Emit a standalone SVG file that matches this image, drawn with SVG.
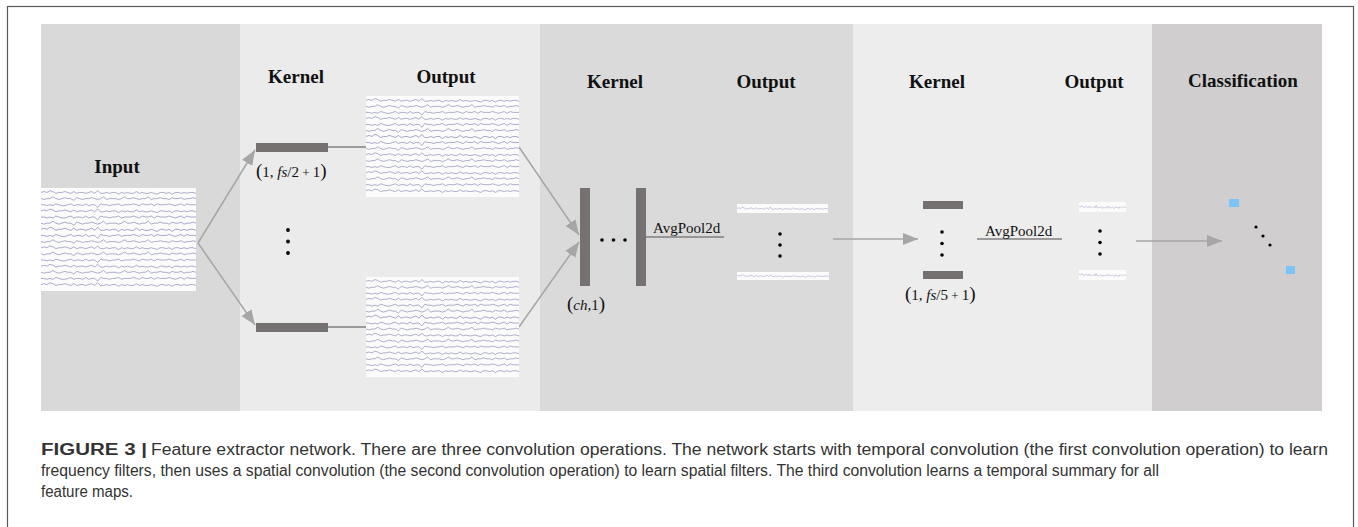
<svg xmlns="http://www.w3.org/2000/svg" xmlns:xlink="http://www.w3.org/1999/xlink" width="1358" height="527" viewBox="0 0 1358 527">
<style>
.hd{font-family:"Liberation Serif","Times New Roman",serif;font-weight:bold;font-size:19px;fill:#111;text-anchor:middle}
.lb{font-family:"Liberation Serif","Times New Roman",serif;font-size:15px;fill:#111}
.bar{fill:#767171}
.ln{stroke:#7f7f7f;stroke-width:1.5;fill:none}
.ar{stroke:#a6a6a6;stroke-width:1.5;fill:none}
.dot{fill:#000}
.wv{fill:none;stroke:#8484b6;stroke-width:0.7}
.sq{fill:#7cc4f7}
.cap{font-family:"Liberation Sans",Arial,sans-serif;font-size:16px;fill:#333}
</style>
<defs>
<marker id="ahb" viewBox="0 0 10 10" refX="10" refY="5" markerWidth="15" markerHeight="15" markerUnits="userSpaceOnUse" orient="auto"><path d="M0,1 L10,5 L0,9 Z" fill="#a6a6a6"/></marker>
<path id="wA" d="M0,0 l3,-1 3,1 3,-2 3,1 3,2 3,-1 3,0 3,-1 3,1 3,1 3,-2 3,2 3,-1 3,0 3,1 3,-1 3,-1 3,2 3,-3 3,3 3,0 3,-1 3,1 3,-1 3,0 3,2 3,-2 3,1 3,-1 3,1 3,0 3,-2 3,2 3,-1 3,1 3,0 3,-1 3,1 3,1 3,-2 3,0 3,1 3,-1 3,2 3,-2 3,0 3,1 3,-1 3,1 3,-1 3,0 3,1"/>
<path id="wB" d="M0,0 l3,1 3,-1 3,0 3,-2 3,2 3,1 3,-1 3,-1 3,1 3,0 3,2 3,-3 3,1 3,1 3,-1 3,0 3,-1 3,1 3,1 3,-1 3,-2 3,3 3,-1 3,0 3,0 3,1 3,-1 3,-2 3,2 3,0 3,-1 3,1 3,1 3,-1 3,0 3,-2 3,3 3,-1 3,0 3,-1 3,1 3,0 3,1 3,-2 3,1 3,0 3,-1 3,2 3,-1 3,0 3,-1 3,1"/>
<path id="wC" d="M0,0 l3,0 3,1 3,-1 3,1 3,-2 3,1 3,1 3,0 3,-1 3,-1 3,2 3,-1 3,0 3,1 3,-2 3,2 3,-1 3,0 3,3 3,-4 3,1 3,0 3,1 3,-1 3,0 3,-1 3,2 3,-1 3,0 3,0 3,-1 3,1 3,1 3,-2 3,1 3,0 3,-1 3,2 3,-2 3,1 3,0 3,0 3,-1 3,1 3,1 3,-1 3,-1 3,2 3,-2 3,1 3,0 3,0"/>
<symbol id="eeg" viewBox="0 0 156 104" preserveAspectRatio="none">
<rect width="156" height="104" fill="#fbfbfb"/>
<g class="wv">
<use href="#wA" transform="translate(0,4.5) scale(1,0.9)"/>
<use href="#wB" transform="translate(0,10.7) scale(1,0.9)"/>
<use href="#wC" transform="translate(0,16.9) scale(1,0.9)"/>
<use href="#wA" transform="translate(0,23.1) scale(1,0.9)"/>
<use href="#wC" transform="translate(0,29.3) scale(1,1)"/>
<use href="#wB" transform="translate(0,35.5) scale(1,1)"/>
<use href="#wA" transform="translate(0,41.7) scale(1,1.1)"/>
<use href="#wC" transform="translate(0,47.9) scale(1,1)"/>
<use href="#wB" transform="translate(0,54.1) scale(1,0.9)"/>
<use href="#wA" transform="translate(0,60.3) scale(1,0.9)"/>
<use href="#wB" transform="translate(0,66.5) scale(1,0.9)"/>
<use href="#wC" transform="translate(0,72.7) scale(1,0.9)"/>
<use href="#wA" transform="translate(0,78.9) scale(1,0.9)"/>
<use href="#wB" transform="translate(0,85.1) scale(1,0.9)"/>
<use href="#wC" transform="translate(0,91.3) scale(1,0.9)"/>
<use href="#wA" transform="translate(0,97.5) scale(1,0.9)"/>
</g>
</symbol>
<symbol id="sig" viewBox="0 0 156 14" preserveAspectRatio="none">
<rect width="156" height="14" fill="#fbfbfb"/>
<use href="#wA" class="wv" transform="translate(0,7) scale(1,1.1)"/>
</symbol>
</defs>

<rect x="7.5" y="6.5" width="1346" height="540" fill="#fff" stroke="#595959" stroke-width="1.2"/>

<g id="panels">
<rect x="41" y="24" width="199" height="387" fill="#d9d9d9"/>
<rect x="240" y="24" width="300" height="387" fill="#ebebeb"/>
<rect x="540" y="24" width="313" height="387" fill="#dadada"/>
<rect x="853" y="24" width="299" height="387" fill="#ededed"/>
<rect x="1152" y="24" width="170" height="387" fill="#d0cece"/>
</g>

<g id="connectors">
<line class="ar" x1="198" y1="243" x2="255" y2="150" marker-end="url(#ahb)"/>
<line class="ar" x1="198" y1="243" x2="255" y2="325" marker-end="url(#ahb)"/>
<line class="ln" x1="328" y1="147" x2="366" y2="147"/>
<line class="ln" x1="328" y1="327" x2="366" y2="327"/>
<line class="ar" x1="519" y1="147" x2="579" y2="235" marker-end="url(#ahb)"/>
<line class="ar" x1="519" y1="327" x2="579" y2="242" marker-end="url(#ahb)"/>
<line class="ln" x1="646" y1="237" x2="724" y2="237"/>
<line class="ar" x1="833" y1="239" x2="918" y2="239" marker-end="url(#ahb)"/>
<line class="ln" x1="977" y1="239" x2="1062" y2="239"/>
<line class="ar" x1="1136" y1="241" x2="1222" y2="241" marker-end="url(#ahb)"/>
</g>

<g id="input">
<text class="hd" x="117" y="173">Input</text>
<use href="#eeg" x="41" y="188" width="155" height="103"/>
</g>

<g id="conv1">
<text class="hd" x="296" y="83">Kernel</text>
<text class="hd" x="446" y="83">Output</text>
<rect class="bar" x="256" y="143" width="72" height="9"/>
<rect class="bar" x="256" y="323" width="72" height="9"/>
<text class="lb" x="256" y="177"><tspan font-size="19">(</tspan>1, <tspan font-style="italic">fs</tspan>/2<tspan font-size="13"> + </tspan>1<tspan font-size="19">)</tspan></text>
<circle class="dot" cx="288" cy="230" r="1.9"/>
<circle class="dot" cx="288" cy="241.5" r="1.9"/>
<circle class="dot" cx="288" cy="253" r="1.9"/>
<use href="#eeg" x="366" y="96" width="153" height="101"/>
<use href="#eeg" x="366" y="277" width="153" height="100"/>
</g>

<g id="conv2">
<text class="hd" x="615" y="88">Kernel</text>
<text class="hd" x="766" y="88">Output</text>
<rect class="bar" x="580" y="188" width="10" height="98"/>
<rect class="bar" x="636" y="188" width="10" height="98"/>
<circle class="dot" cx="602" cy="240" r="1.8"/>
<circle class="dot" cx="613.5" cy="240" r="1.8"/>
<circle class="dot" cx="625" cy="240" r="1.8"/>
<text class="lb" x="567" y="310"><tspan font-size="19">(</tspan><tspan font-style="italic">ch</tspan>,1<tspan font-size="19">)</tspan></text>
<text class="lb" x="653" y="233" font-size="14.5">AvgPool2d</text>
<use href="#sig" x="737" y="204" width="91" height="9"/>
<use href="#sig" x="737" y="272" width="92" height="8"/>
<circle class="dot" cx="780" cy="234" r="1.8"/>
<circle class="dot" cx="780" cy="245" r="1.8"/>
<circle class="dot" cx="780" cy="256" r="1.8"/>
</g>

<g id="conv3">
<text class="hd" x="937" y="88">Kernel</text>
<text class="hd" x="1094" y="88">Output</text>
<rect class="bar" x="923" y="201" width="40" height="8"/>
<rect class="bar" x="923" y="271" width="40" height="8"/>
<circle class="dot" cx="942" cy="232" r="1.8"/>
<circle class="dot" cx="942" cy="243.5" r="1.8"/>
<circle class="dot" cx="942" cy="255" r="1.8"/>
<text class="lb" x="905" y="300"><tspan font-size="19">(</tspan>1, <tspan font-style="italic">fs</tspan>/5<tspan font-size="13"> + </tspan>1<tspan font-size="19">)</tspan></text>
<text class="lb" x="985" y="236" font-size="14.5">AvgPool2d</text>
<use href="#sig" x="1079" y="202" width="47" height="10"/>
<use href="#sig" x="1079" y="270" width="47" height="10"/>
<circle class="dot" cx="1100" cy="231" r="1.8"/>
<circle class="dot" cx="1100" cy="242.5" r="1.8"/>
<circle class="dot" cx="1100" cy="254" r="1.8"/>
</g>

<g id="classification">
<text class="hd" x="1243" y="87">Classification</text>
<rect class="sq" x="1229" y="199" width="10" height="8"/>
<rect class="sq" x="1286" y="266" width="9" height="8"/>
<circle class="dot" cx="1256" cy="227" r="1.6"/>
<circle class="dot" cx="1263" cy="236" r="1.6"/>
<circle class="dot" cx="1270" cy="245" r="1.6"/>
</g>

<g id="caption">
<text class="cap" x="41" y="455" font-weight="bold" fill="#222" textLength="106" lengthAdjust="spacingAndGlyphs">FIGURE 3 |</text>
<text class="cap" x="151" y="455" textLength="1177" lengthAdjust="spacingAndGlyphs">Feature extractor network. There are three convolution operations. The network starts with temporal convolution (the first convolution operation) to learn</text>
<text class="cap" x="41" y="476" textLength="1118" lengthAdjust="spacingAndGlyphs">frequency filters, then uses a spatial convolution (the second convolution operation) to learn spatial filters. The third convolution learns a temporal summary for all</text>
<text class="cap" x="41" y="497" textLength="92" lengthAdjust="spacingAndGlyphs">feature maps.</text>
</g>
</svg>
